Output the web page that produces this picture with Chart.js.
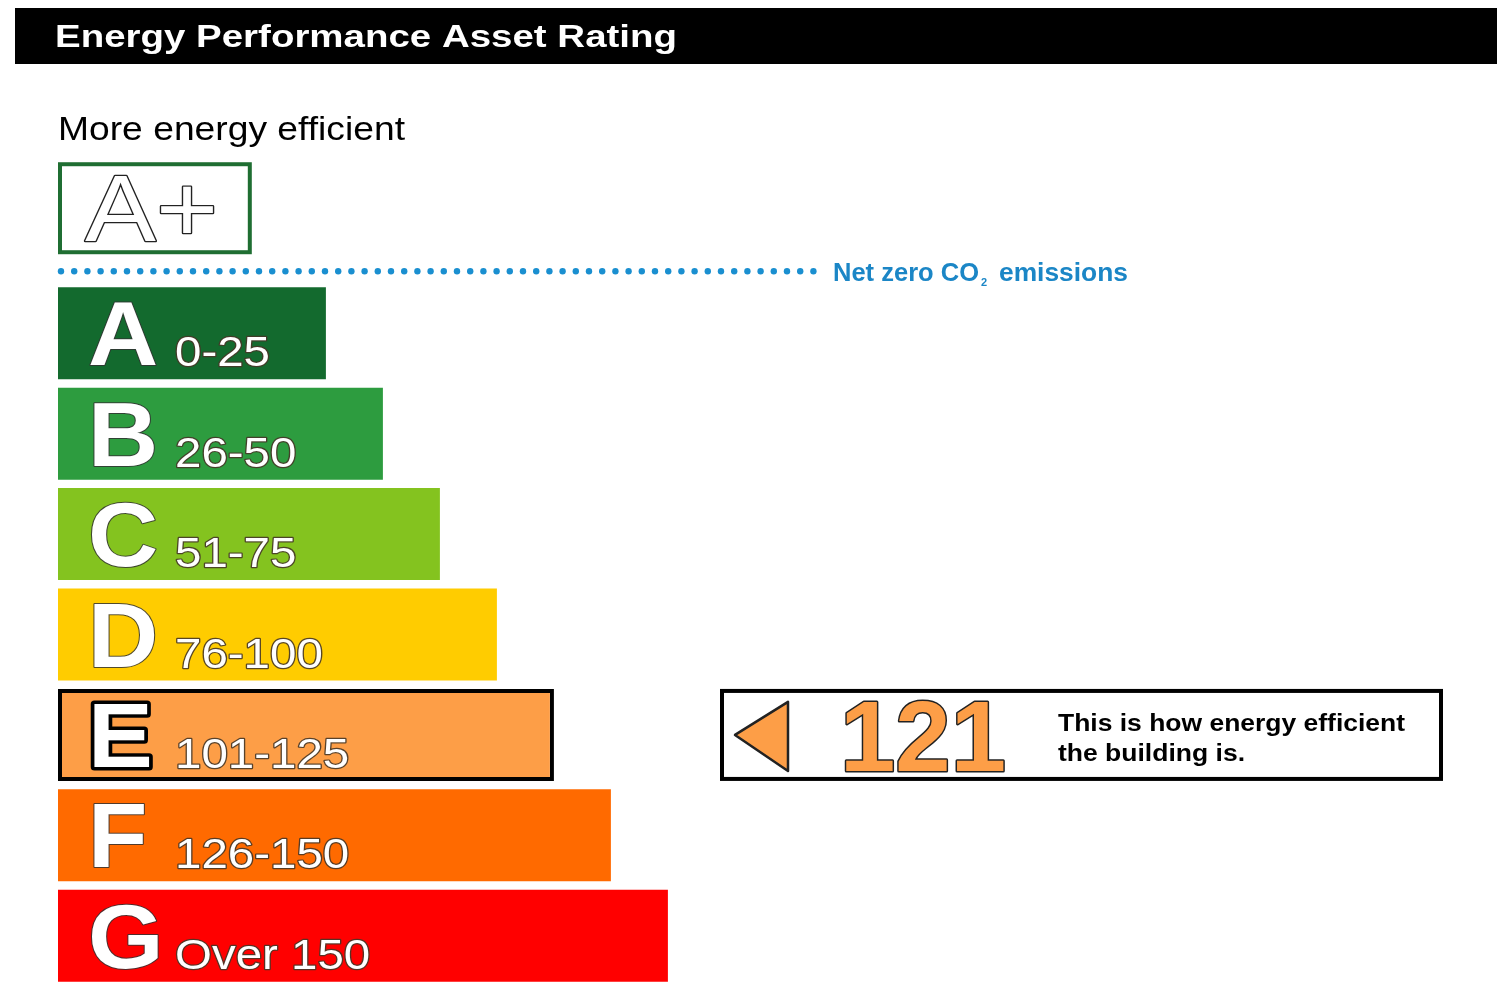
<!DOCTYPE html>
<html lang="en">
<head>
<meta charset="UTF-8">
<title>Energy Performance Asset Rating</title>
<script src="https://cdn.jsdelivr.net/npm/chart.js"></script>
<style>
  html, body { margin: 0; padding: 0; background: #fff; }
  #wrap { position: relative; width: 1500px; height: 1000px; }
</style>
</head>
<body>
<div id="wrap"><canvas id="epc" width="1500" height="1000"></canvas></div>
<script>
// bands, their score ranges and the relative arrow length of each bar
const bands = ['A', 'B', 'C', 'D', 'E', 'F', 'G'];
const ranges = ['0-25', '26-50', '51-75', '76-100', '101-125', '126-150', 'Over 150'];
const bandMax = [25, 50, 75, 100, 125, 150, Infinity];
const barLength = [47, 57, 67, 77, 87, 97, 107];
const bandColors = ['#136a2e', '#2d9c3f', '#84c31f', '#ffcc00', '#fd9e47', '#ff6a00', '#ff0000'];
const aPlusLength = 34;
const rating = 121;

const current = bandMax.findIndex(m => rating <= m);
const FONT = "'Liberation Sans', Arial, sans-serif";

// draw text, optionally stretched to a width, with an optional outline
function txt(ctx, s, x, y, font, fill, o) {
    o = o || {};
    ctx.save();
    ctx.font = font;
    ctx.textBaseline = 'alphabetic';
    const w = ctx.measureText(s).width;
    const sx = o.width ? o.width / w : (o.sx || 1);
    ctx.translate(x, y);
    ctx.scale(sx, 1);
    if (o.stroke) {
        ctx.lineJoin = 'round';
        ctx.lineWidth = o.lw || 2;
        ctx.strokeStyle = o.stroke;
        ctx.strokeText(s, 0, 0);
    }
    ctx.fillStyle = fill;
    ctx.fillText(s, 0, 0);
    ctx.restore();
    return w * sx;
}

const decorations = {
    id: 'decorations',
    afterDraw(chart) {
        const ctx = chart.ctx;
        const xs = chart.scales.x;
        const bars = chart.getDatasetMeta(0).data;
        const x0 = xs.getPixelForValue(0);

        // header
        ctx.fillStyle = '#000';
        ctx.fillRect(15, 8, 1482, 56);
        txt(ctx, 'Energy Performance Asset Rating', 55, 47, 'bold 31px ' + FONT, '#fff', { width: 622 });

        txt(ctx, 'More energy efficient', 58, 140, '34px ' + FONT, '#000', { width: 347 });

        // A+ box above band A
        const aTop = bars[0].y - bars[0].height / 2;
        const h = bars[0].height;
        const boxTop = aTop - 33 - h;
        const boxRight = xs.getPixelForValue(aPlusLength);
        ctx.fillStyle = '#1f6e32';
        ctx.fillRect(x0, boxTop, boxRight - x0, h);
        ctx.fillStyle = '#fff';
        ctx.fillRect(x0 + 4, boxTop + 4, boxRight - x0 - 8, h - 8);
        txt(ctx, 'A+', 85, boxTop + 79, '94px ' + FONT, '#fff', { stroke: '#222', lw: 2.5, width: 133 });

        // net zero dotted line
        const lineY = aTop - 16;
        ctx.fillStyle = '#1a8fd0';
        for (let x = 61; x <= 815; x += 13.2) {
            ctx.beginPath();
            ctx.arc(x, lineY, 3.2, 0, Math.PI * 2);
            ctx.fill();
        }
        const blue = '#1b86c6';
        let nx = 833;
        nx += txt(ctx, 'Net zero CO', nx, lineY + 10, 'bold 26px ' + FONT, blue, { width: 146 });
        txt(ctx, '2', nx + 2, lineY + 15, 'bold 11px ' + FONT, blue);
        txt(ctx, 'emissions', 999, lineY + 10, 'bold 26px ' + FONT, blue, { width: 129 });

        // band letters and ranges
        bars.forEach((b, i) => {
            const top = b.y - b.height / 2;
            const cur = i === current;
            txt(ctx, bands[i], 88, top + 78, 'bold 90px ' + FONT, '#fff',
                { stroke: cur ? '#000' : 'rgba(50,50,50,0.85)', lw: cur ? 7 : 2, sx: 1.08 });
            txt(ctx, ranges[i], 175, top + 79, '42px ' + FONT, '#fff',
                { stroke: 'rgba(70,55,40,0.9)', lw: 2.4, sx: 1.13 });
        });

        // rating marker box level with the current band
        const cb = bars[current];
        const t = cb.y - cb.height / 2;
        const bh = cb.height;
        ctx.fillStyle = '#000';
        ctx.fillRect(720, t, 723, bh);
        ctx.fillStyle = '#fff';
        ctx.fillRect(724, t + 4, 715, bh - 8);

        ctx.beginPath();
        ctx.moveTo(735, t + bh / 2);
        ctx.lineTo(788, t + 13);
        ctx.lineTo(788, t + bh - 10);
        ctx.closePath();
        ctx.fillStyle = bandColors[current];
        ctx.fill();
        ctx.lineWidth = 2.5;
        ctx.lineJoin = 'round';
        ctx.strokeStyle = '#222';
        ctx.stroke();

        txt(ctx, String(rating), 840, t + 82, 'bold 100px ' + FONT, bandColors[current],
            { stroke: '#222', lw: 3, width: 166 });
        txt(ctx, 'This is how energy efficient', 1058, t + 42, 'bold 23px ' + FONT, '#000', { width: 347 });
        txt(ctx, 'the building is.', 1058, t + 72, 'bold 23px ' + FONT, '#000', { width: 187 });
    }
};

new Chart(document.getElementById('epc'), {
    type: 'bar',
    data: {
        labels: bands,
        datasets: [{
            data: barLength,
            backgroundColor: bandColors,
            borderColor: '#000',
            borderWidth: bands.map((b, i) => i === current ? 4 : 0),
            borderSkipped: false,
            categoryPercentage: 1,
            barPercentage: 0.916
        }]
    },
    options: {
        indexAxis: 'y',
        responsive: false,
        animation: false,
        events: [],
        layout: { padding: { left: 58, right: 17, top: 283, bottom: 14 } },
        scales: {
            x: { display: false, min: 0, max: 250 },
            y: { display: false }
        },
        plugins: {
            legend: { display: false },
            tooltip: { enabled: false },
            title: { display: false }
        }
    },
    plugins: [decorations]
});
</script>
</body>
</html>
